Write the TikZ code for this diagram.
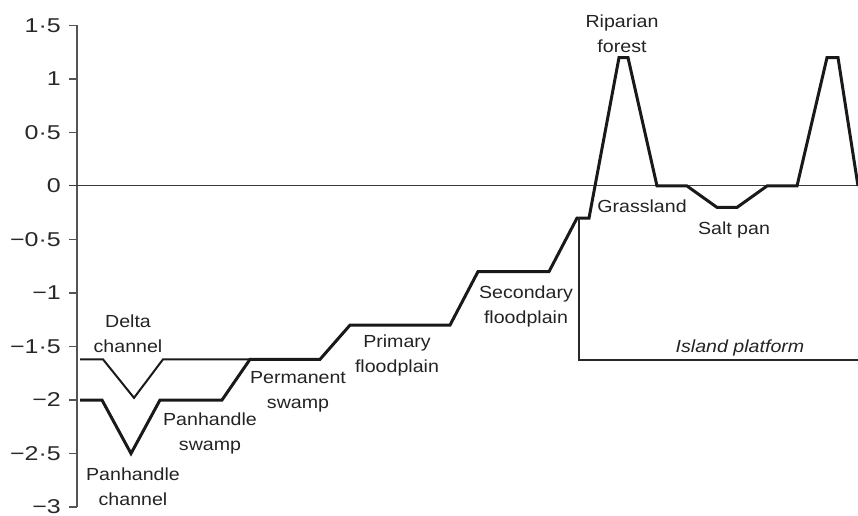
\documentclass[tikz,border=0pt]{standalone}
\usepackage{fontspec}
\setmainfont{Liberation Sans}[FakeStretch=1.12]
\newfontfamily\tickfont{Liberation Sans}[FakeStretch=1.25]
\tikzset{
  axisline/.style={draw={rgb,255:red,85; green,85; blue,85}, line width=1.2bp},
  zeroline/.style={draw={rgb,255:red,60; green,60; blue,60}, line width=1bp},
  platform/.style={draw={rgb,255:red,40; green,40; blue,40}, line width=1.4bp},
  deltaline/.style={draw={rgb,255:red,25; green,25; blue,25}, line width=2bp, line join=miter},
  profile/.style={draw={rgb,255:red,25; green,25; blue,25}, line width=3bp, line join=miter},
  ticklabel/.style={anchor=east, inner sep=0pt, font=\tickfont\fontsize{20bp}{22bp}\selectfont, text={rgb,255:red,40; green,40; blue,40}},
  zonelabel/.style={anchor=base, inner sep=0pt, align=center, text={rgb,255:red,35; green,35; blue,35}}
}
\begin{document}
\begin{tikzpicture}[x=1bp, y=107bp, font=\fontsize{17.5bp}{25bp}\selectfont]
    \useasboundingbox (0,-3.0748) rectangle (858,1.7383);
    %axis
    \draw[axisline] (77,1.5) -- (77,-3);
    \draw[axisline] (69,1.5) -- (77,1.5);
    \draw[axisline] (69,1) -- (77,1);
    \draw[axisline] (69,0.5) -- (77,0.5);
    \draw[axisline] (69,-0.5) -- (77,-0.5);
    \draw[axisline] (69,-1) -- (77,-1);
    \draw[axisline] (69,-1.5) -- (77,-1.5);
    \draw[axisline] (69,-2) -- (77,-2);
    \draw[axisline] (69,-2.5) -- (77,-2.5);
    \draw[axisline] (69,-3) -- (77,-3);
    \draw[zeroline] (69,0) -- (858,0);
    \node[ticklabel] (t15) at (61,1.5) {1·5};
    \node[ticklabel] (t10) at (61,1) {1};
    \node[ticklabel] (t05) at (61,0.5) {0·5};
    \node[ticklabel] (t00) at (61,0) {0};
    \node[ticklabel] (m05) at (61,-0.5) {−0·5};
    \node[ticklabel] (m10) at (61,-1) {−1};
    \node[ticklabel] (m15) at (61,-1.5) {−1·5};
    \node[ticklabel] (m20) at (61,-2) {−2};
    \node[ticklabel] (m25) at (61,-2.5) {−2·5};
    \node[ticklabel] (m30) at (61,-3) {−3};

    %delta channel
    \draw[deltaline] (80,-1.62) -- (103,-1.62) -- (134,-1.98) -- (163,-1.62) -- (252,-1.62);
    %panhandle to island
    \draw[profile] (80,-2) -- (102,-2) -- (131,-2.5) -- (160,-2) -- (222,-2) -- (250,-1.62)
        -- (320,-1.62) -- (350,-1.3) -- (450,-1.3) -- (478,-0.8) -- (549,-0.8) -- (577,-0.3)
        -- (589,-0.3) -- (619,1.2) -- (628,1.2) -- (657,0) -- (687,0) -- (717,-0.2)
        -- (737,-0.2) -- (767,0) -- (797,0) -- (827,1.2) -- (838,1.2) -- (858,0);
    %island platform
    \draw[platform] (579,-0.3) -- (579,-1.625) -- (860,-1.625);

    %labels
    \node[zonelabel] (delta) at (128,{(186-352)/107}) {Delta\\channel};
    \node[zonelabel] (panchan) at (133,{(186-505)/107}) {Panhandle\\channel};
    \node[zonelabel] (panswamp) at (210,{(186-450)/107}) {Panhandle\\swamp};
    \node[zonelabel] (permswamp) at (298,{(186-408)/107}) {Permanent\\swamp};
    \node[zonelabel] (primary) at (397,{(186-372)/107}) {Primary\\floodplain};
    \node[zonelabel] (secondary) at (526,{(186-323)/107}) {Secondary\\floodplain};
    \node[zonelabel] (riparian) at (622,{(186-53)/107}) {Riparian\\forest};
    \node[zonelabel] (grass) at (642,{(186-213)/107}) {Grassland};
    \node[zonelabel] (saltpan) at (734,{(186-235)/107}) {Salt pan};
    \node[zonelabel, font=\fontsize{17.5bp}{25bp}\selectfont\itshape] (island) at (740,{(186-352)/107}) {Island platform};
\end{tikzpicture}
\end{document}
